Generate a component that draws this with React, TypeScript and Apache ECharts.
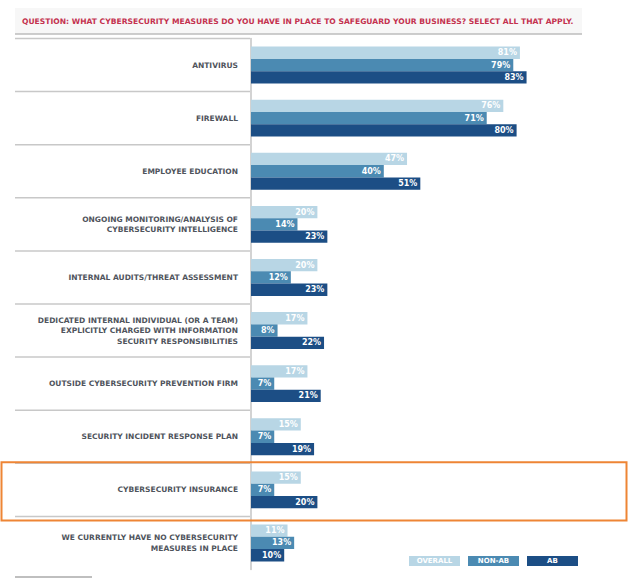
import React, { useEffect, useRef } from "react";
import * as echarts from "echarts";

const titleText =
  "QUESTION: WHAT CYBERSECURITY MEASURES DO YOU HAVE IN PLACE TO SAFEGUARD YOUR BUSINESS? SELECT ALL THAT APPLY.";

const categories = [
  "ANTIVIRUS",
  "FIREWALL",
  "EMPLOYEE EDUCATION",
  "ONGOING MONITORING/ANALYSIS OF\nCYBERSECURITY INTELLIGENCE",
  "INTERNAL AUDITS/THREAT ASSESSMENT",
  "DEDICATED INTERNAL INDIVIDUAL (OR A TEAM)\nEXPLICITLY CHARGED WITH INFORMATION\nSECURITY RESPONSIBILITIES",
  "OUTSIDE CYBERSECURITY PREVENTION FIRM",
  "SECURITY INCIDENT RESPONSE PLAN",
  "CYBERSECURITY INSURANCE",
  "WE CURRENTLY HAVE NO CYBERSECURITY\nMEASURES IN PLACE",
];

const overall = [81, 76, 47, 20, 20, 17, 17, 15, 15, 11];
const nonAb = [79, 71, 40, 14, 12, 8, 7, 7, 7, 13];
const ab = [83, 80, 51, 23, 23, 22, 21, 19, 20, 10];

const seriesNames = ["OVERALL", "NON-AB", "AB"];
const seriesColors = ["#b8d6e5", "#4b8ab2", "#1c4e85"];
const highlightedCategory = "CYBERSECURITY INSURANCE";

const FONT = "DejaVu Sans";

export default function App() {
  const ref = useRef<HTMLDivElement>(null);

  useEffect(() => {
    if (!ref.current) return;
    const chart = echarts.init(ref.current, null, { renderer: "svg" });
    const values = [overall, nonAb, ab];

    const rich: Record<string, any> = {};
    seriesNames.forEach((_, i) => {
      rich["s" + i] = {
        color: "#ffffff",
        backgroundColor: seriesColors[i],
        width: 51,
        height: 10,
        lineHeight: 10,
        align: "center",
        verticalAlign: "middle",
        fontFamily: FONT,
        fontWeight: "bold",
        fontSize: 7,
      };
    });

    chart.setOption({
      animation: false,
      backgroundColor: "#ffffff",
      grid: { left: 251, right: 46, top: 38.5, bottom: 16.5 },
      xAxis: { type: "value", min: 0, max: 100, show: false },
      yAxis: {
        type: "category",
        data: categories,
        inverse: true,
        axisLine: { show: true, lineStyle: { color: "#c4c4c4", width: 1.5 } },
        axisTick: { show: false },
        axisLabel: {
          margin: 13,
          color: "#4f545c",
          fontFamily: FONT,
          fontWeight: "bold",
          fontSize: 7.5,
          lineHeight: 10.5,
          align: "right",
        },
      },
      legend: {
        right: 51,
        top: 556,
        icon: "none",
        itemWidth: 0,
        itemHeight: 10,
        itemGap: 3,
        padding: 0,
        selectedMode: false,
        data: seriesNames,
        formatter: (name: string) => `{s${seriesNames.indexOf(name)}|${name}}`,
        textStyle: { rich },
      },
      series: seriesNames.map((n, i) => ({
        name: n,
        type: "bar",
        data: values[i],
        barWidth: 12.3,
        barGap: "0%",
        itemStyle: { color: seriesColors[i] },
        label: {
          show: true,
          position: "insideRight",
          distance: 3,
          formatter: "{c}%",
          color: "#ffffff",
          fontFamily: FONT,
          fontWeight: "bold",
          fontSize: 8,
        },
      })),
    });

    const py = (c: string) => chart.convertToPixel({ yAxisIndex: 0 }, c) as number;
    const ys = categories.map(py);
    const half = (ys[1] - ys[0]) / 2;
    const bounds: number[] = [ys[0] - half];
    for (let k = 1; k < ys.length; k++) bounds.push((ys[k - 1] + ys[k]) / 2);
    const hi = categories.indexOf(highlightedCategory);
    const hiTop = bounds[hi];
    const hiBottom = hi + 1 < bounds.length ? bounds[hi + 1] : ys[hi] + half;

    const graphics: any[] = [
      {
        type: "rect",
        shape: { x: 15, y: 8, width: 567, height: 26 },
        style: { fill: "#f7f7f7" },
        silent: true,
      },
      {
        type: "line",
        shape: { x1: 15, y1: 34, x2: 582, y2: 34 },
        style: { stroke: "#bdbdbd", lineWidth: 1.5 },
        silent: true,
      },
      {
        type: "text",
        x: 22,
        y: 21,
        style: {
          text: titleText,
          fill: "#c4324f",
          font: `bold 7.6px "${FONT}"`,
          verticalAlign: "middle",
        },
        silent: true,
      },
      ...bounds.map((b) => ({
        type: "line",
        shape: { x1: 15, y1: b, x2: 250, y2: b },
        style: { stroke: "#c8c8c8", lineWidth: 1.5 },
        silent: true,
      })),
      {
        type: "rect",
        shape: { x: 1.5, y: hiTop - 1, width: 625, height: hiBottom - hiTop + 5 },
        style: { fill: "none", stroke: "#ee8535", lineWidth: 2 },
        silent: true,
        z: 100,
      },
      {
        type: "line",
        shape: { x1: 15, y1: 577, x2: 92, y2: 577 },
        style: { stroke: "#aaaaaa", lineWidth: 1.5 },
        silent: true,
      },
    ];
    chart.setOption({ graphic: graphics });

    return () => chart.dispose();
  }, []);

  return (
    <div
      ref={ref}
      style={{ position: "fixed", left: 0, top: 0, width: 629, height: 586, background: "#fff" }}
    />
  );
}
